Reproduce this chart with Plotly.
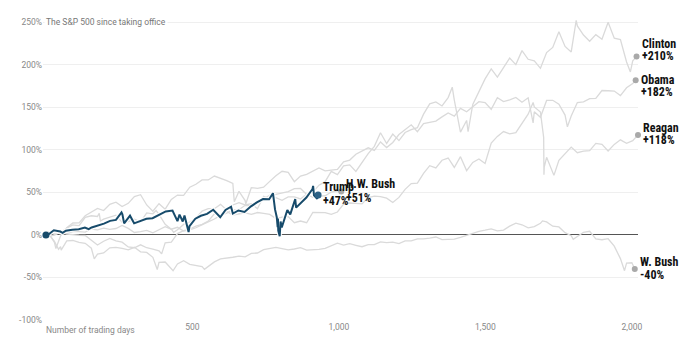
import plotly.graph_objects as go

# ---------------- DATA ----------------
# Trading days since inauguration and % change of the S&P 500
CLINTON_DAYS = [0, 8, 29, 50, 71, 92, 113, 134, 155, 176, 197, 218, 239,
                260, 281, 302, 323, 344, 365, 386, 407, 428, 449, 470, 491,
                512, 533, 554, 575, 596, 617, 638, 659, 680, 701, 722, 743,
                764, 785, 806, 827, 848, 869, 890, 911, 932, 953, 974, 995,
                1016, 1037, 1058, 1079, 1100, 1121, 1142, 1163, 1184, 1205, 1226, 1247,
                1268, 1289, 1310, 1331, 1352, 1373, 1387, 1394, 1415, 1436, 1441, 1457, 1478, 1499,
                1520, 1541, 1562, 1583, 1604, 1625, 1646, 1667, 1688, 1709, 1730, 1751,
                1772, 1793, 1810, 1814, 1835, 1856, 1877, 1898, 1919, 1940, 1961, 1982, 1995, 2003, 2016]
CLINTON_PCT = [0, 1.2, 2.3, 4.2, 1.6, 3.9, 4.0, 3.4, 7.0, 5.9, 8.0, 6.6, 7.6,
               11.1, 7.8, 2.9, 4.0, 5.3, 2.5, 5.7, 9.7, 6.8, 9.0, 4.7, 6.0,
               8.5, 12.5, 15.5, 18.8, 23.1, 25.7, 29.7, 29.7, 34.9, 34.2, 39.7, 42.1,
               46.8, 47.8, 48.9, 50.9, 54.4, 54.7, 47.7, 50.4, 58.6, 62.7, 74.7, 70.9,
               81.4, 82.5, 74.7, 84.9, 95.7, 104.2, 120.2, 107.6, 118.6, 111.0, 120.5, 123.9,
               126.2, 142.1, 154.2, 156.5, 151.7, 161.6, 173.8, 158.6, 120.9, 134.7, 121.4, 153.5, 168.5, 183.6,
               195.3, 185.7, 196.8, 208.1, 200.4, 216.8, 206.6, 204.7, 196.0, 214.5, 220.5, 239.0,
               221.8, 215.3, 252.5, 245.8, 235.1, 227.8, 235.6, 230.2, 250.2, 231.5, 229.8, 203.4, 191.7, 204.7, 209.8]

OBAMA_DAYS = [0, 8, 29, 34, 50, 71, 92, 113, 134, 155, 176, 197, 218, 239,
              260, 281, 302, 323, 344, 365, 386, 407, 428, 449, 470, 491,
              512, 533, 554, 575, 596, 617, 638, 643, 659, 680, 682, 701, 722, 743,
              764, 785, 806, 827, 848, 869, 890, 911, 932, 953, 974, 995,
              1016, 1037, 1058, 1079, 1100, 1121, 1142, 1163, 1184, 1205, 1226, 1247,
              1268, 1289, 1310, 1331, 1352, 1373, 1394, 1415, 1436, 1457, 1478, 1499,
              1520, 1541, 1562, 1583, 1604, 1625, 1646, 1663, 1667, 1688, 1709, 1730, 1751,
              1772, 1780, 1793, 1814, 1835, 1856, 1877, 1898, 1919, 1940, 1961, 1982, 2003, 2013]
OBAMA_PCT = [0, 2.6, -8.7, -16.0, -0.9, 8.4, 14.1, 14.2, 22.6, 26.8, 31.3, 28.7, 36.1, 38.5,
             33.4, 37.2, 45.2, 47.4, 35.3, 28.0, 36.8, 30.3, 41.7, 46.9, 46.6, 56.2,
             59.7, 64.8, 64.7, 69.3, 67.1, 64.0, 60.5, 39.0, 51.4, 40.5, 36.5, 55.6, 54.9, 56.2,
             63.0, 69.6, 74.9, 73.6, 62.7, 69.2, 71.3, 74.7, 78.9, 75.4, 75.9, 77.1,
             86.0, 88.1, 94.9, 98.4, 102.5, 99.5, 109.4, 102.8, 108.8, 118.1, 124.3, 129.5,
             121.4, 130.9, 132.5, 134.0, 138.9, 143.4, 139.8, 148.8, 144.9, 150.6, 156.8, 155.7,
             147.8, 161.4, 156.8, 159.0, 161.7, 156.2, 161.3, 131.9, 144.9, 138.4, 158.2, 158.4, 153.8,
             141.0, 127.2, 140.0, 155.8, 156.5, 160.4, 160.7, 169.9, 169.6, 169.3, 164.0, 173.1, 178.0, 182.1]

REAGAN_DAYS = [0, 8, 29, 50, 71, 92, 113, 134, 155, 176, 197, 218, 239,
               260, 281, 302, 323, 344, 365, 386, 395, 407, 428, 449, 470, 491,
               512, 533, 554, 575, 596, 617, 638, 659, 680, 701, 722, 743,
               764, 785, 806, 827, 848, 869, 890, 911, 932, 953, 974, 995,
               1016, 1037, 1058, 1079, 1100, 1121, 1142, 1163, 1184, 1205, 1226, 1247,
               1268, 1289, 1310, 1331, 1352, 1373, 1394, 1415, 1436, 1457, 1478, 1499,
               1520, 1541, 1562, 1583, 1604, 1625, 1646, 1663, 1667, 1688, 1699, 1700, 1701, 1709, 1730, 1734, 1751,
               1772, 1793, 1814, 1835, 1856, 1877, 1898, 1919, 1940, 1961, 1982, 2003, 2021]
REAGAN_PCT = [0, -1.6, -0.3, 3.3, 0.9, 0.7, -0.3, -0.6, -6.7, -11.8, -7.4, -4.0, -6.9,
              -8.5, -14.1, -15.0, -11.6, -15.0, -16.7, -18.7, -22.2, -9.2, -8.5, 1.6, 5.2, 6.8,
              10.4, 12.5, 16.2, 24.9, 23.3, 27.7, 23.5, 24.9, 26.1, 24.2, 26.4, 25.3,
              24.1, 19.3, 20.9, 21.6, 14.4, 16.4, 14.4, 26.6, 26.2, 26.2, 24.3, 27.0,
              36.4, 37.6, 37.2, 36.6, 44.0, 45.7, 45.0, 43.3, 38.3, 44.2, 53.6, 60.5,
              60.9, 72.4, 81.5, 78.9, 87.9, 90.5, 79.4, 92.1, 75.7, 85.3, 89.3, 84.0,
              108.2, 115.9, 121.6, 119.0, 120.4, 130.9, 142.0, 155.8, 150.5, 144.5, 114.7, 70.8, 79.9, 91.3, 74.9, 70.1, 87.7,
              95.3, 103.4, 96.7, 98.5, 99.1, 107.7, 106.6, 98.7, 106.5, 111.9, 107.9, 111.0, 117.7]

WBUSH_DAYS = [0, 8, 29, 43, 50, 52, 71, 92, 113, 134, 155, 165, 176, 197, 218, 239,
              260, 281, 302, 323, 344, 365, 380, 386, 407, 428, 434, 449, 470, 491,
              512, 533, 541, 554, 575, 596, 617, 638, 659, 680, 701, 722, 743,
              764, 785, 806, 827, 848, 869, 890, 911, 932, 953, 974, 995,
              1016, 1037, 1058, 1079, 1100, 1121, 1142, 1163, 1184, 1205, 1226, 1247,
              1268, 1289, 1310, 1331, 1352, 1373, 1394, 1415, 1436, 1457, 1478, 1499,
              1520, 1541, 1562, 1583, 1604, 1625, 1646, 1667, 1688, 1695, 1709, 1730, 1751,
              1772, 1793, 1800, 1814, 1835, 1856, 1877, 1898, 1919, 1940, 1961, 1975, 1982, 2000, 2010]
WBUSH_PCT = [0, 1.7, -7.6, -16.8, -13.6, -17.8, -6.9, -6.5, -8.8, -9.8, -15.6, -28.1, -22.5, -21.1, -15.1, -14.5,
             -15.8, -17.6, -14.5, -19.8, -20.5, -26.3, -40.6, -32.1, -31.8, -39.3, -42.1, -34.0, -30.3, -34.5,
             -36.3, -37.3, -40.4, -36.8, -31.7, -28.2, -27.4, -26.2, -24.9, -25.8, -21.7, -21.2, -17.2,
             -15.7, -14.7, -16.1, -17.5, -16.5, -15.0, -17.9, -17.7, -17.0, -15.8, -12.6, -9.7,
             -12.0, -10.3, -12.1, -13.8, -11.3, -11.3, -8.1, -9.1, -8.5, -10.1, -6.9, -7.0,
             -4.7, -4.6, -3.6, -2.4, -5.4, -5.4, -4.9, -2.9, -0.5, 2.6, 4.3, 5.6,
             7.1, 4.8, 5.8, 10.4, 14.0, 12.0, 8.4, 9.8, 13.7, 16.6, 15.4, 10.3, 9.4,
             2.7, -0.9, -5.2, -1.5, 3.2, 4.3, -4.7, -5.6, -4.4, -13.1, -27.8, -42.0, -33.2, -32.7, -40.0]

HWBUSH_DAYS = [0, 8, 29, 50, 71, 92, 113, 134, 155, 176, 182, 186, 197, 218, 239,
               260, 281, 302, 323, 344, 365, 376, 386, 407, 428, 436, 449, 470, 491,
               512, 533, 554, 575, 596, 617, 638, 659, 680, 701, 722, 743,
               764, 785, 806, 827, 848, 869, 890, 911, 932, 953, 974, 995, 1008]
HWBUSH_PCT = [0, 3.8, 0.8, 2.9, 8.0, 11.8, 10.9, 20.7, 22.6, 21.8, 25.5, 16.4, 18.7, 20.7, 23.3,
              14.8, 15.8, 18.6, 15.4, 26.0, 24.9, 28.7, 24.3, 12.5, 6.8, 3.1, 6.1, 12.4, 15.2,
              20.0, 28.1, 30.9, 30.9, 36.0, 29.5, 35.3, 38.0, 35.3, 36.9, 30.9, 45.5,
              42.6, 44.0, 40.8, 44.8, 44.9, 42.4, 48.0, 44.4, 45.8, 46.1, 50.5, 52.0, 51.0]

TRUMP_DAYS = [0, 7, 27, 49, 57, 68, 90, 112, 133, 146, 156, 176, 198, 219, 239, 258, 261, 267, 280, 287,
              301, 321, 343, 364, 386, 409, 432, 449, 456, 467, 473, 487, 490, 510, 529, 550, 571, 595, 613, 632,
              638, 657, 678, 700, 720, 741, 762, 775, 782, 788, 791, 792, 793, 798, 801, 805, 824, 834, 851, 854,
              867, 889, 910, 912, 915, 926, 929]
TRUMP_PCT = [0, 0.3, 5.5, 4.0, 2.5, 5.0, 6.2, 6.7, 8.8, 6.8, 8.8, 10.9, 13.4, 16.6, 17.7, 26.5, 24.3, 13.6, 19.5, 22.7,
             13.7, 16.6, 19.1, 19.7, 24.0, 27.7, 28.8, 16.3, 23.9, 15.9, 22.9, 3.5, 10.4, 19.1, 22.6, 24.8, 29.7, 20.8, 29.5, 33.2,
             25.2, 28.8, 27.1, 33.7, 38.3, 42.2, 42.0, 49.1, 30.1, 20.9, 9.2, 19.4, 5.1, -1.5, 15.8, 8.8, 29.4, 24.2, 42.3, 32.2,
             36.5, 44.0, 54.1, 57.7, 46.7, 42.5, 47.0]

NAMES = ["Clinton", "Obama", "Reagan", "W. Bush", "H.W. Bush", "Trump"]
CHANGE_LABELS = ["+210%", "+182%", "+118%", "-40%", "+51%", "+47%"]

Y_TICKS = [-100, -50, 0, 50, 100, 150, 200, 250]
Y_TICK_LABELS = ["-100%", "-50%", "0%", "50%", "100%", "150%", "200%", "250%"]
X_TICKS = [500, 1000, 1500, 2000]
X_TICK_LABELS = ["500", "1,000", "1,500", "2,000"]

TITLE = "The S&P 500 since taking office"
X_TITLE = "Number of trading days"

# ---------------- STYLE ----------------
GRAY = "#dadada"
GRAY_DOT = "#a9a9a9"
BLUE = "#174b6b"
LABEL_FONT = "Liberation Sans Narrow, 'Roboto Condensed', 'DejaVu Sans Condensed', Arial Narrow, sans-serif"
TICK_FONT = "Roboto, 'Noto Sans', sans-serif"
# (name line yshift, value line yshift) in px relative to end dot
LABEL_OFFSETS = {
    "Clinton": (13, 1),
    "Obama": (0, -12),
    "Reagan": (7, -5),
    "W. Bush": (7, -6),
    "H.W. Bush": (8, -6),
    "Trump": (8, -6),
}

series = [
    (CLINTON_DAYS, CLINTON_PCT),
    (OBAMA_DAYS, OBAMA_PCT),
    (REAGAN_DAYS, REAGAN_PCT),
    (WBUSH_DAYS, WBUSH_PCT),
    (HWBUSH_DAYS, HWBUSH_PCT),
    (TRUMP_DAYS, TRUMP_PCT),
]

fig = go.Figure()

for (days, pct), name in zip(series, NAMES):
    if name == "Trump":
        continue
    fig.add_trace(go.Scatter(x=days, y=pct, mode="lines",
                             line=dict(color=GRAY, width=1.3), hoverinfo="skip"))

# Trump highlighted
fig.add_trace(go.Scatter(x=TRUMP_DAYS, y=TRUMP_PCT, mode="lines",
                         line=dict(color="rgba(255,255,255,0.85)", width=4.5), hoverinfo="skip"))
fig.add_trace(go.Scatter(x=TRUMP_DAYS, y=TRUMP_PCT, mode="lines",
                         line=dict(color=BLUE, width=2), hoverinfo="skip"))

# end dots
for (days, pct), name in zip(series, NAMES):
    is_t = name == "Trump"
    fig.add_trace(go.Scatter(x=[days[-1]], y=[pct[-1]], mode="markers", cliponaxis=False,
                             marker=dict(color=("#2c6185" if is_t else GRAY_DOT), size=(7 if is_t else 6)),
                             hoverinfo="skip"))
# start dot
fig.add_trace(go.Scatter(x=[TRUMP_DAYS[0]], y=[TRUMP_PCT[0]], mode="markers", cliponaxis=False,
                         marker=dict(color=BLUE, size=7), hoverinfo="skip"))

annotations = []
for (days, pct), name, chg in zip(series, NAMES, CHANGE_LABELS):
    dy1, dy2 = LABEL_OFFSETS[name]
    for txt, dy in ((name, dy1), (chg, dy2)):
        annotations.append(dict(x=days[-1], y=pct[-1], xref="x", yref="y", text=txt,
                                showarrow=False, xanchor="left", yanchor="middle",
                                xshift=3, yshift=dy,
                                font=dict(family=LABEL_FONT, size=12, color="#111", weight=700)))

annotations.append(dict(x=0, y=250, xref="x", yref="y", text=TITLE, showarrow=False,
                        xanchor="left", yanchor="middle", bgcolor="white", xshift=-2,
                        font=dict(family=TICK_FONT, size=8.5, color="#777")))
annotations.append(dict(x=0, y=0, xref="x", yref="paper", text=X_TITLE, showarrow=False,
                        xanchor="left", yanchor="top", yshift=-3, xshift=-2,
                        font=dict(family=TICK_FONT, size=8.5, color="#888")))

fig.update_layout(
    width=700, height=356,
    margin=dict(l=43, r=62, t=19, b=36),
    paper_bgcolor="white", plot_bgcolor="white",
    showlegend=False,
    hovermode=False,
    annotations=annotations,
    xaxis=dict(range=[-10, 2021], showgrid=False, zeroline=False, showline=False,
               tickvals=X_TICKS, ticktext=X_TICK_LABELS, ticks="", fixedrange=True,
               tickfont=dict(family=TICK_FONT, size=8.5, color="#888")),
    yaxis=dict(range=[-100, 254], tickvals=Y_TICKS, ticktext=Y_TICK_LABELS,
               showgrid=True, gridcolor="#efefef", gridwidth=1,
               zeroline=True, zerolinecolor="#555", zerolinewidth=1,
               showline=False, ticks="", fixedrange=True,
               tickfont=dict(family=TICK_FONT, size=8.5, color="#888")),
)

fig.write_html("out.html", config={"displayModeBar": False, "staticPlot": True},
               post_script="document.body.style.margin='0';document.body.style.overflow='hidden';")
